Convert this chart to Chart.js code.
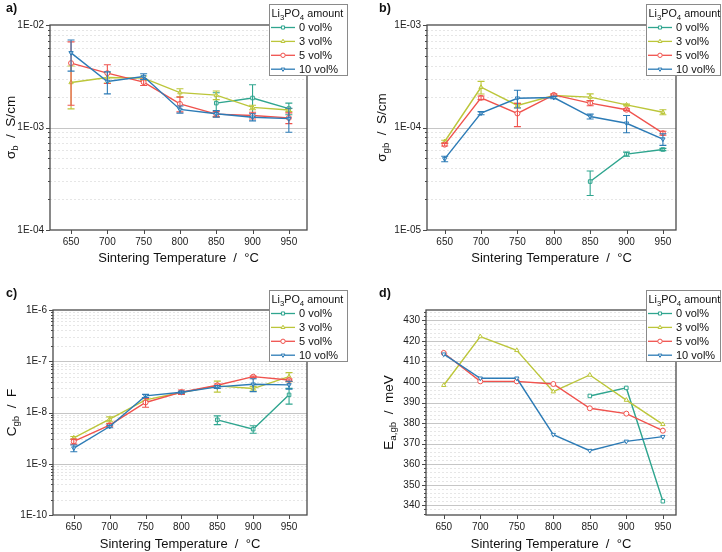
<!DOCTYPE html>
<html>
<head>
<meta charset="utf-8">
<script src="https://cdn.jsdelivr.net/npm/chart.js@4.4.1/dist/chart.umd.min.js"></script>
<style>
html, body { margin: 0; padding: 0; background: #fff; }
#wrap { position: relative; width: 722px; height: 552px; }
canvas { position: absolute; }
</style>
</head>
<body>
<div id="wrap">
  <canvas id="ca" width="361" height="276" style="left:0;top:0"></canvas>
  <canvas id="cb" width="361" height="276" style="left:361px;top:0"></canvas>
  <canvas id="cc" width="361" height="276" style="left:0;top:276px"></canvas>
  <canvas id="cd" width="361" height="276" style="left:361px;top:276px"></canvas>
</div>
<script>
const temps = [650, 700, 750, 800, 850, 900, 950];
const seriesLabels = ['0 vol%', '3 vol%', '5 vol%', '10 vol%'];

// a) bulk conductivity (S/cm) and +/- error
const sigmaB0 = [null, null, null, null, 1.73e-3, 1.94e-3, 1.53e-3];
const sigmaB3 = [2.75e-3, 3.07e-3, 3.03e-3, 2.19e-3, 2.07e-3, 1.57e-3, 1.48e-3];
const sigmaB5 = [4.25e-3, 3.39e-3, 2.77e-3, 1.70e-3, 1.35e-3, 1.31e-3, 1.24e-3];
const sigmaB10 = [5.35e-3, 2.81e-3, 3.14e-3, 1.50e-3, 1.36e-3, 1.26e-3, 1.22e-3];
const sigmaB0Err = [null, null, null, null, 0.45e-3, 0.67e-3, 0.2e-3];
const sigmaB3Err = [1.23e-3, 0.35e-3, 0.15e-3, 0.2e-3, 0.2e-3, 0.08e-3, 0.05e-3];
const sigmaB5Err = [2.6e-3, 0.7e-3, 0.2e-3, 0.28e-3, 0.08e-3, 0.1e-3, 0.15e-3];
const sigmaB10Err = [1.8e-3, 0.68e-3, 0.2e-3, 0.12e-3, 0.1e-3, 0.1e-3, 0.32e-3];

// b) grain boundary conductivity (S/cm)
const sigmaGb0 = [null, null, null, null, 2.97e-5, 5.5e-5, 6.1e-5];
const sigmaGb3 = [7.3e-5, 2.47e-4, 1.64e-4, 2.05e-4, 1.98e-4, 1.66e-4, 1.41e-4];
const sigmaGb5 = [6.8e-5, 1.95e-4, 1.37e-4, 2.08e-4, 1.73e-4, 1.49e-4, 8.8e-5];
const sigmaGb10 = [4.94e-5, 1.38e-4, 1.93e-4, 1.96e-4, 1.28e-4, 1.1e-4, 7.7e-5];
const sigmaGb0Err = [null, null, null, null, 0.8e-5, 0.25e-5, 0.15e-5];
const sigmaGb3Err = [0.2e-5, 0.35e-4, 0.08e-4, 0.05e-4, 0.15e-4, 0.03e-4, 0.08e-4];
const sigmaGb5Err = [0.2e-5, 0.08e-4, 0.35e-4, 0.05e-4, 0.1e-4, 0.03e-4, 0.4e-5];
const sigmaGb10Err = [0.3e-5, 0.05e-4, 0.38e-4, 0.05e-4, 0.07e-4, 0.21e-4, 1.0e-5];

// c) grain boundary capacitance (F)
const cGb0 = [null, null, null, null, 7.2e-9, 4.73e-9, 2.21e-8];
const cGb3 = [3.21e-9, 7.4e-9, 1.77e-8, 2.45e-8, 3.3e-8, 2.93e-8, 5.0e-8];
const cGb5 = [2.72e-9, 5.67e-9, 1.57e-8, 2.49e-8, 3.4e-8, 5.0e-8, 4.3e-8];
const cGb10 = [2.02e-9, 5.33e-9, 2.11e-8, 2.49e-8, 3.16e-8, 3.56e-8, 3.46e-8];
const cGb0Err = [null, null, null, null, 1.4e-9, 0.8e-9, 0.75e-8];
const cGb3Err = [0.2e-9, 0.8e-9, 0.1e-8, 0.1e-8, 0.8e-8, 0.3e-8, 1.0e-8];
const cGb5Err = [0.3e-9, 0.4e-9, 0.3e-8, 0.25e-8, 0.2e-8, 0.15e-8, 0.2e-8];
const cGb10Err = [0.3e-9, 0.3e-9, 0.15e-8, 0.1e-8, 0.2e-8, 1.0e-8, 0.6e-8];

// d) grain boundary activation energy (meV)
const eaGb0 = [null, null, null, null, 393.2, 397.1, 342.0];
const eaGb3 = [398.4, 422.1, 415.4, 395.3, 403.4, 391.2, 379.4];
const eaGb5 = [414.1, 400.3, 400.3, 399.0, 387.2, 384.6, 376.3];
const eaGb10 = [413.5, 401.8, 401.8, 374.4, 366.6, 371.1, 373.4];

// tick labels
const yTicksA = ['1E-04', '1E-03', '1E-02'];
const yTicksB = ['1E-05', '1E-04', '1E-03'];
const yTicksC = ['1E-10', '1E-9', '1E-8', '1E-7', '1E-6'];
const yTicksD = [340, 350, 360, 370, 380, 390, 400, 410, 420, 430];

const colors = ['#2fa58f', '#bcc63a', '#f0524d', '#2c7bb6'];
const markers = [
  { style: 'rect', rot: 0 },
  { style: 'triangle', rot: 0 },
  { style: 'circle', rot: 0 },
  { style: 'triangle', rot: 180 }
];
const FONT = '"Liberation Sans", Arial, sans-serif';
const W = 361, H = 276;

function fnt(size, bold) {
  return (bold ? 'bold ' : '') + size + 'px ' + FONT;
}

// draw text pieces with subscripts, left aligned at x, middle baseline at y
function drawRich(ctx, parts, x, y, size) {
  let cx = x;
  ctx.textBaseline = 'middle';
  ctx.textAlign = 'left';
  parts.forEach(p => {
    const s = p.sub ? size * 0.72 : size;
    ctx.font = fnt(s);
    ctx.fillText(p.t, cx, p.sub ? y + size * 0.32 : y);
    cx += ctx.measureText(p.t).width;
  });
  return cx - x;
}
function richWidth(ctx, parts, size) {
  let w = 0;
  parts.forEach(p => {
    ctx.font = fnt(p.sub ? size * 0.72 : size);
    w += ctx.measureText(p.t).width;
  });
  return w;
}

function logTicks(labels) {
  const lo = Math.round(Math.log10(parseFloat(labels[0])));
  const hi = Math.round(Math.log10(parseFloat(labels[labels.length - 1])));
  const out = [];
  for (let e = lo; e < hi; e++) {
    for (let k = 1; k <= 9; k++) out.push(k * Math.pow(10, e));
  }
  out.push(Math.pow(10, hi));
  return out;
}

function makeDeco(cfg) {
  return {
    id: 'deco',
    beforeDatasetsDraw(chart) {
      const ctx = chart.ctx, a = chart.chartArea, ys = chart.scales.y;
      ctx.save();
      ctx.lineWidth = 1;
      ys.ticks.forEach(t => {
        const py = Math.round(ys.getPixelForValue(t.value)) + 0.5;
        if (py <= a.top + 1.5 || py >= a.bottom - 1.5) return;
        const major = cfg.isMajor(t.value);
        ctx.strokeStyle = major ? '#c6c6c6' : '#e6e6e6';
        ctx.setLineDash(major ? [] : [2, 2]);
        ctx.beginPath();
        ctx.moveTo(a.left, py);
        ctx.lineTo(a.right, py);
        ctx.stroke();
      });
      ctx.restore();
    },
    afterDatasetDraw(chart, args) {
      const ds = chart.data.datasets[args.index];
      const ctx = chart.ctx, xs = chart.scales.x, ys = chart.scales.y;
      ctx.save();
      ctx.strokeStyle = ds.borderColor;
      ctx.lineWidth = 1.1;
      ds.data.forEach(p => {
        if (p.err == null) return;
        const px = xs.getPixelForValue(p.x);
        const top = ys.getPixelForValue(p.y + p.err);
        const bot = ys.getPixelForValue(Math.max(p.y - p.err, 1e-30));
        ctx.beginPath();
        ctx.moveTo(px, top); ctx.lineTo(px, bot);
        ctx.moveTo(px - 3.5, top); ctx.lineTo(px + 3.5, top);
        ctx.moveTo(px - 3.5, bot); ctx.lineTo(px + 3.5, bot);
        ctx.stroke();
      });
      ctx.restore();
    },
    afterDraw(chart) {
      const ctx = chart.ctx, a = chart.chartArea, xs = chart.scales.x, ys = chart.scales.y;
      ctx.save();
      // frame
      ctx.strokeStyle = '#4a4a4a';
      ctx.lineWidth = 1.3;
      ctx.strokeRect(a.left, a.top, a.right - a.left, a.bottom - a.top);
      // tick marks
      ctx.lineWidth = 1;
      ctx.strokeStyle = '#4a4a4a';
      ctx.beginPath();
      ys.ticks.forEach(t => {
        const py = Math.round(ys.getPixelForValue(t.value)) + 0.5;
        const len = cfg.isMajor(t.value) ? 4 : 2;
        ctx.moveTo(a.left, py); ctx.lineTo(a.left - len, py);
      });
      xs.ticks.forEach(t => {
        const px = Math.round(xs.getPixelForValue(t.value)) + 0.5;
        ctx.moveTo(px, a.bottom); ctx.lineTo(px, a.bottom + 4);
      });
      ctx.stroke();

      ctx.fillStyle = '#111';
      // panel letter
      ctx.font = fnt(12.5, true);
      ctx.textBaseline = 'middle';
      ctx.textAlign = 'left';
      ctx.fillText(cfg.letter, cfg.letterX, cfg.letterY);

      // x title
      ctx.font = fnt(13);
      ctx.textAlign = 'center';
      ctx.fillText('Sintering Temperature  /  °C', (a.left + a.right) / 2, cfg.xTitleY);

      // y title, rotated
      ctx.save();
      ctx.translate(cfg.yTitleX, (a.top + a.bottom) / 2);
      ctx.rotate(-Math.PI / 2);
      const w = richWidth(ctx, cfg.yTitle, 13.5);
      drawRich(ctx, cfg.yTitle, -w / 2, 0, 13.5);
      ctx.restore();

      // legend
      const L = cfg.legend;
      ctx.fillStyle = '#fff';
      ctx.fillRect(L.x, L.y, L.w, L.h);
      ctx.strokeStyle = '#8a8a8a';
      ctx.lineWidth = 1;
      ctx.strokeRect(L.x + 0.5, L.y + 0.5, L.w, L.h);
      ctx.fillStyle = '#111';
      drawRich(ctx, [{ t: 'Li' }, { t: '3', sub: true }, { t: 'PO' }, { t: '4', sub: true }, { t: ' amount' }],
        L.x + 2.5, L.y + 10, 10.8);
      chart.data.datasets.forEach((ds, i) => {
        const ry = L.y + 23.5 + i * 13.9;
        ctx.strokeStyle = ds.borderColor;
        ctx.lineWidth = 1.3;
        ctx.beginPath();
        ctx.moveTo(L.x + 2, ry); ctx.lineTo(L.x + 26, ry);
        ctx.stroke();
        ctx.fillStyle = '#fff';
        ctx.lineWidth = 1;
        Chart.helpers.drawPoint(ctx, {
          pointStyle: markers[i].style, rotation: markers[i].rot, radius: 2.2, borderWidth: 1
        }, L.x + 14, ry);
        ctx.fillStyle = '#111';
        ctx.font = fnt(11);
        ctx.textAlign = 'left';
        ctx.textBaseline = 'middle';
        ctx.fillText(seriesLabels[i], L.x + 30, ry + 0.5);
      });
      ctx.restore();
    }
  };
}

function buildSets(values, errs) {
  return values.map((vals, i) => ({
    label: seriesLabels[i],
    data: temps.map((t, j) => ({ x: t, y: vals[j], err: errs ? errs[i][j] : null }))
      .filter(p => p.y != null),
    borderColor: colors[i],
    backgroundColor: '#fff',
    borderWidth: 1.4,
    pointStyle: markers[i].style,
    pointRotation: markers[i].rot,
    pointRadius: 2.5,
    pointBorderWidth: 1,
    pointBackgroundColor: '#fff',
    pointBorderColor: colors[i],
    tension: 0,
    order: 4 - i
  }));
}

function makePanel(id, cfg) {
  const area = cfg.area;
  const yTickValues = cfg.yTickValues;
  new Chart(document.getElementById(id), {
    type: 'line',
    data: { datasets: buildSets(cfg.values, cfg.errs) },
    options: {
      responsive: false,
      animation: false,
      events: [],
      layout: { padding: { top: area.top, right: W - area.right, left: 0, bottom: 0 } },
      plugins: { legend: { display: false }, tooltip: { enabled: false } },
      scales: {
        x: {
          type: 'linear',
          min: cfg.xMin, max: cfg.xMax,
          afterBuildTicks: s => { s.ticks = temps.map(v => ({ value: v })); },
          afterFit: s => { s.height = H - area.bottom; },
          grid: { display: false, drawTicks: false },
          border: { display: false },
          ticks: { font: { size: 10, family: FONT }, color: '#222', padding: 6, maxRotation: 0, autoSkip: false,
            callback: v => String(v) }
        },
        y: {
          type: cfg.yType,
          min: cfg.yMin, max: cfg.yMax,
          afterBuildTicks: s => { s.ticks = yTickValues.map(v => ({ value: v })); },
          afterFit: s => { s.width = area.left; },
          grid: { display: false, drawTicks: false },
          border: { display: false },
          ticks: { font: { size: 10, family: FONT }, color: '#222', padding: 6, autoSkip: false,
            callback: v => cfg.label(v) }
        }
      }
    },
    plugins: [makeDeco(cfg)]
  });
}

function logLabeller(labels) {
  return v => {
    const hit = labels.find(l => Math.abs(v / parseFloat(l) - 1) < 1e-6);
    return hit || '';
  };
}
function logMajor(labels) {
  return v => labels.some(l => Math.abs(v / parseFloat(l) - 1) < 1e-6);
}

makePanel('ca', {
  area: { left: 50, top: 25, right: 307, bottom: 230 },
  xMin: 621, xMax: 975,
  yType: 'logarithmic', yMin: parseFloat(yTicksA[0]), yMax: parseFloat(yTicksA[yTicksA.length - 1]),
  yTickValues: logTicks(yTicksA), label: logLabeller(yTicksA), isMajor: logMajor(yTicksA),
  values: [sigmaB0, sigmaB3, sigmaB5, sigmaB10],
  errs: [sigmaB0Err, sigmaB3Err, sigmaB5Err, sigmaB10Err],
  letter: 'a)', letterX: 6, letterY: 9,
  xTitleY: 258, yTitleX: 11,
  yTitle: [{ t: 'σ' }, { t: 'b', sub: true }, { t: '  /  S/cm' }],
  legend: { x: 269, y: 4, w: 78, h: 71 }
});

makePanel('cb', {
  area: { left: 66, top: 25, right: 315, bottom: 230 },
  xMin: 625.7, xMax: 968,
  yType: 'logarithmic', yMin: parseFloat(yTicksB[0]), yMax: parseFloat(yTicksB[yTicksB.length - 1]),
  yTickValues: logTicks(yTicksB), label: logLabeller(yTicksB), isMajor: logMajor(yTicksB),
  values: [sigmaGb0, sigmaGb3, sigmaGb5, sigmaGb10],
  errs: [sigmaGb0Err, sigmaGb3Err, sigmaGb5Err, sigmaGb10Err],
  letter: 'b)', letterX: 18, letterY: 9,
  xTitleY: 258, yTitleX: 21,
  yTitle: [{ t: 'σ' }, { t: 'gb', sub: true }, { t: '  /  S/cm' }],
  legend: { x: 285, y: 4, w: 74, h: 71 }
});

makePanel('cc', {
  area: { left: 53, top: 34, right: 307, bottom: 239 },
  xMin: 621, xMax: 975,
  yType: 'logarithmic', yMin: parseFloat(yTicksC[0]), yMax: parseFloat(yTicksC[yTicksC.length - 1]),
  yTickValues: logTicks(yTicksC), label: logLabeller(yTicksC), isMajor: logMajor(yTicksC),
  values: [cGb0, cGb3, cGb5, cGb10],
  errs: [cGb0Err, cGb3Err, cGb5Err, cGb10Err],
  letter: 'c)', letterX: 6, letterY: 18,
  xTitleY: 268, yTitleX: 12,
  yTitle: [{ t: 'C' }, { t: 'gb', sub: true }, { t: '  /  F' }],
  legend: { x: 269, y: 14, w: 78, h: 71 }
});

const minorD = [];
for (let v = 336; v <= 434; v += 2) minorD.push(v);
makePanel('cd', {
  area: { left: 65, top: 34, right: 315, bottom: 239 },
  xMin: 625.7, xMax: 968,
  yType: 'linear', yMin: 335.3, yMax: 435,
  yTickValues: minorD,
  label: v => (yTicksD.includes(v) ? String(v) : ''),
  isMajor: v => yTicksD.includes(v),
  values: [eaGb0, eaGb3, eaGb5, eaGb10],
  errs: null,
  letter: 'd)', letterX: 18, letterY: 18,
  xTitleY: 268, yTitleX: 28,
  yTitle: [{ t: 'E' }, { t: 'a,gb', sub: true }, { t: '  /  meV' }],
  legend: { x: 285, y: 14, w: 74, h: 71 }
});
</script>
</body>
</html>
